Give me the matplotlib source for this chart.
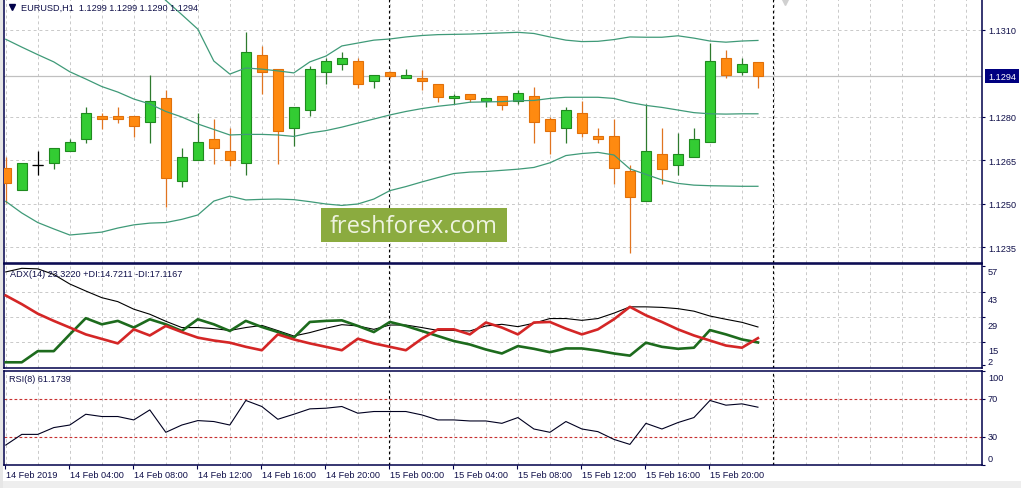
import matplotlib
matplotlib.use("Agg")
import matplotlib.pyplot as plt
import numpy as np
from matplotlib.patches import Rectangle

# ---------------- data ----------------
opens = [1.12622, 1.12548, 1.12633, 1.12639, 1.12681, 1.12722, 1.12802, 1.12802,
         1.12801, 1.12781, 1.12864, 1.12579, 1.12650, 1.12722, 1.12681, 1.12639,
         1.13012, 1.12963, 1.12760, 1.12822, 1.12953, 1.12981, 1.12991, 1.12922,
         1.12953, 1.12932, 1.12932, 1.12912, 1.12863, 1.12879, 1.12853, 1.12870,
         1.12853, 1.12870, 1.12792, 1.12760, 1.12812, 1.12732, 1.12732, 1.12612,
         1.12510, 1.12670, 1.12632, 1.12660, 1.12712, 1.13001, 1.12953, 1.12990]
highs = [1.12661, 1.12639, 1.12681, 1.12691, 1.12722, 1.12833, 1.12812, 1.12832,
         1.12801, 1.12944, 1.12893, 1.12692, 1.12812, 1.12792, 1.12761, 1.13091,
         1.13043, 1.12963, 1.12832, 1.12976, 1.13002, 1.13023, 1.13002, 1.12943,
         1.12958, 1.12964, 1.12962, 1.12912, 1.12877, 1.12879, 1.12863, 1.12870,
         1.12893, 1.12901, 1.12800, 1.12832, 1.12855, 1.12761, 1.12792, 1.12633,
         1.12843, 1.12761, 1.12743, 1.12761, 1.13054, 1.13031, 1.13001, 1.12990]
lows = [1.12502, 1.12548, 1.12600, 1.12621, 1.12681, 1.12710, 1.12758, 1.12779,
        1.12730, 1.12710, 1.12490, 1.12559, 1.12650, 1.12638, 1.12631, 1.12600,
        1.12878, 1.12638, 1.12700, 1.12801, 1.12912, 1.12962, 1.12900, 1.12900,
        1.12932, 1.12932, 1.12891, 1.12852, 1.12844, 1.12852, 1.12832, 1.12822,
        1.12843, 1.12710, 1.12670, 1.12710, 1.12730, 1.12710, 1.12569, 1.12329,
        1.12510, 1.12569, 1.12600, 1.12660, 1.12712, 1.12932, 1.12943, 1.12900]
closes = [1.12570, 1.12639, 1.12633, 1.12691, 1.12712, 1.12812, 1.12791, 1.12791,
          1.12769, 1.12853, 1.12590, 1.12660, 1.12712, 1.12691, 1.12650, 1.13022,
          1.12953, 1.12752, 1.12832, 1.12963, 1.12991, 1.13001, 1.12912, 1.12943,
          1.12941, 1.12943, 1.12922, 1.12869, 1.12870, 1.12861, 1.12863, 1.12841,
          1.12881, 1.12781, 1.12752, 1.12822, 1.12743, 1.12722, 1.12622, 1.12522,
          1.12681, 1.12621, 1.12670, 1.12722, 1.12991, 1.12943, 1.12981, 1.12940]

bb_upper = [1.13627, 1.13613, 1.13594, 1.13565, 1.13518, 1.13463, 1.13406, 1.13354,
            1.13296, 1.13254, 1.13201, 1.13152, 1.13102, 1.12992, 1.12947, 1.12968,
            1.12964, 1.12958, 1.12951, 1.12989, 1.13009, 1.13044, 1.13054, 1.13064,
            1.13068, 1.13075, 1.13080, 1.13083, 1.13084, 1.13085, 1.13087, 1.13089,
            1.13091, 1.13087, 1.13075, 1.13064, 1.13059, 1.13060, 1.13066, 1.13075,
            1.13074, 1.13074, 1.13079, 1.13071, 1.13061, 1.13057, 1.13061, 1.13063]
bb_middle = [1.13067, 1.13040, 1.13014, 1.12989, 1.12955, 1.12930, 1.12904, 1.12885,
             1.12861, 1.12844, 1.12818, 1.12799, 1.12775, 1.12756, 1.12737, 1.12739,
             1.12739, 1.12737, 1.12732, 1.12744, 1.12752, 1.12764, 1.12778, 1.12792,
             1.12806, 1.12818, 1.12828, 1.12836, 1.12842, 1.12850, 1.12851, 1.12852,
             1.12855, 1.12856, 1.12863, 1.12867, 1.12867, 1.12867, 1.12863, 1.12849,
             1.12839, 1.12832, 1.12823, 1.12814, 1.12810, 1.12809, 1.12810, 1.12810]
bb_lower = [1.12508, 1.12468, 1.12435, 1.12413, 1.12392, 1.12397, 1.12402, 1.12416,
            1.12427, 1.12433, 1.12435, 1.12446, 1.12461, 1.12509, 1.12526, 1.12513,
            1.12515, 1.12516, 1.12514, 1.12507, 1.12499, 1.12494, 1.12499, 1.12516,
            1.12545, 1.12559, 1.12575, 1.12590, 1.12604, 1.12609, 1.12611, 1.12615,
            1.12619, 1.12625, 1.12641, 1.12666, 1.12673, 1.12677, 1.12668, 1.12620,
            1.12601, 1.12582, 1.12570, 1.12564, 1.12562, 1.12561, 1.12560, 1.12560]

adx = [53.9, 55.9, 55.6, 52.5, 47.2, 43.3, 39.6, 37.4, 33.2, 30.4, 26.5, 23.0,
       23.0, 22.4, 21.4, 23.0, 24.2, 21.3, 18.3, 20.2, 22.6, 24.6, 23.9, 22.0,
       24.4, 24.4, 23.0, 21.4, 21.4, 21.1, 23.9, 24.8, 23.5, 25.4, 28.0, 28.0,
       27.0, 28.0, 31.0, 34.5, 34.5, 34.2, 33.5, 32.1, 29.4, 27.6, 25.9, 23.32]
plus_di = [3.7, 3.7, 9.9, 9.9, 19.2, 28.2, 24.8, 26.7, 23.0, 27.6, 24.8, 21.1,
           27.6, 24.8, 21.1, 26.7, 23.3, 20.5, 17.4, 26.1, 26.7, 27.0, 23.9, 20.5,
           26.1, 23.9, 21.1, 18.3, 15.5, 13.6, 10.8, 8.6, 12.7, 11.2, 9.3, 11.4,
           11.4, 10.2, 8.6, 7.4, 14.6, 12.3, 11.2, 11.8, 21.6, 19.2, 16.4, 14.72]
minus_di = [40.8, 36.0, 30.7, 26.7, 23.0, 19.2, 16.7, 14.2, 22.0, 18.6, 23.9, 20.5,
            17.4, 15.8, 14.6, 12.3, 10.4, 19.2, 16.4, 14.2, 12.3, 10.4, 16.8, 14.2,
            12.3, 10.4, 16.8, 22.0, 22.0, 19.2, 25.8, 23.0, 19.2, 25.8, 26.1, 22.4,
            19.2, 22.0, 27.6, 34.5, 29.8, 26.1, 22.0, 18.6, 15.8, 13.0, 11.8, 17.12]
rsi = [21.1, 32.4, 32.4, 39.6, 42.3, 53.7, 51.3, 51.3, 47.7, 58.3, 34.6, 42.3,
       47.0, 46.0, 42.3, 68.3, 61.9, 48.4, 53.7, 59.4, 60.1, 61.9, 54.8, 56.6,
       56.6, 56.6, 53.0, 47.7, 47.7, 46.6, 46.6, 44.1, 50.2, 38.1, 34.6, 46.0,
       38.1, 35.3, 27.1, 21.8, 44.1, 38.1, 44.9, 50.2, 68.3, 63.3, 64.7, 61.17]

time_labels = ["14 Feb 2019", "14 Feb 04:00", "14 Feb 08:00", "14 Feb 12:00",
               "14 Feb 16:00", "14 Feb 20:00", "15 Feb 00:00", "15 Feb 04:00",
               "15 Feb 08:00", "15 Feb 12:00", "15 Feb 16:00", "15 Feb 20:00"]
time_label_idx = [0, 4, 8, 12, 16, 20, 24, 28, 32, 36, 40, 44]
day_starts = [24, 48]

price_ticks = [1.1235, 1.1250, 1.1265, 1.1280, 1.1310]
adx_ticks = [57, 43, 29, 15, 2]
rsi_ticks = [100, 70, 30, 0]
rsi_levels = [70, 30]
last_price = 1.1294

title_main = "EURUSD,H1  1.1299 1.1299 1.1290 1.1294"
title_adx = "ADX(14) 23.3220 +DI:14.7211 -DI:17.1167"
title_rsi = "RSI(8) 61.1739"
watermark = "freshforex.com"

# ---------------- style ----------------
W, H = 1021, 489
NAVY = "#00004a"
TXT = "#10104a"
GRID = "#c9c9c9"
BULL_FILL, BULL_EDGE, BULL_WICK = "#33cc33", "#1f8a1f", "#2e7a2e"
BEAR_FILL, BEAR_EDGE, BEAR_WICK = "#ff8a10", "#e0700a", "#e07420"
BAND = "#3f9a78"
FONT = "Liberation Sans"
FS = 6.6

plt.rcParams["font.family"] = [FONT, "DejaVu Sans"]

fig = plt.figure(figsize=(W / 100, H / 100), dpi=100)
fig.patch.set_facecolor("white")


def px_axes(x0, y0, x1, y1):
    return fig.add_axes([x0 / W, 1 - y1 / H, (x1 - x0) / W, (y1 - y0) / H])


ax_main = px_axes(4, 0, 982, 263.5)
ax_adx = px_axes(4, 265, 982, 368.7)
ax_rsi = px_axes(4, 371.5, 982, 466)
axes = [ax_main, ax_adx, ax_rsi]

idx = np.arange(len(opens))
for ax in axes:
    ax.set_xlim(-0.11, 61.0)
    ax.set_facecolor("white")
    for s in ax.spines.values():
        s.set_color(NAVY)
        s.set_linewidth(1.1)
    ax.set_xticks(np.arange(0, 61, 2), minor=True)
    ax.grid(which="minor", axis="x", color=GRID, linestyle=(0, (3, 3)), linewidth=0.7)
    ax.tick_params(which="minor", length=0)
    ax.set_xticks([])
    ax.yaxis.tick_right()
    ax.tick_params(axis="y", direction="out", length=2.5, width=0.8, color=NAVY,
                   labelsize=FS, labelcolor=TXT, pad=2.0)
    ax.set_axisbelow(True)
    for d in day_starts:
        ax.axvline(d - 0.04, color="black", linestyle=(0, (2.5, 2.5)), linewidth=0.8, zorder=1.5)

ax_main.spines["top"].set_visible(False)

# ---------------- main chart ----------------
ax_main.set_ylim(1.122972, 1.132059)
ax_main.set_yticks(price_ticks)
ax_main.set_yticklabels([f"{p:.4f}" for p in price_ticks])
ax_main.grid(axis="y", color=GRID, linestyle=(0, (3, 3)), linewidth=0.7)
ax_main.axhline(last_price, color="#c0c0c0", linewidth=0.9, zorder=1.2)

o = np.array(opens); c = np.array(closes); h = np.array(highs); l = np.array(lows)
fills, edges, wicks = [], [], []
for oo, cc in zip(o, c):
    if cc > oo:
        fills.append(BULL_FILL); edges.append(BULL_EDGE); wicks.append(BULL_WICK)
    elif cc < oo:
        fills.append(BEAR_FILL); edges.append(BEAR_EDGE); wicks.append(BEAR_WICK)
    else:
        fills.append("black"); edges.append("black"); wicks.append("black")

ax_main.vlines(idx, l, h, colors=wicks, linewidth=0.9, zorder=2)
ax_main.bar(idx, np.abs(c - o), bottom=np.minimum(o, c), width=0.62,
            color=fills, edgecolor=edges, linewidth=0.8, zorder=3)
doji = idx[c == o]
ax_main.hlines(c[c == o], doji - 0.34, doji + 0.34, colors="black", linewidth=0.9, zorder=3)

for band in (bb_upper, bb_middle, bb_lower):
    ax_main.plot(idx, band, color=BAND, linewidth=0.9, zorder=4)

ax_main.annotate(f"{last_price:.4f}", xy=(1.0, last_price), xycoords=("axes fraction", "data"),
                 xytext=(4.3, 0), textcoords="offset points", ha="left", va="center",
                 fontsize=FS, color="white", annotation_clip=False,
                 bbox=dict(boxstyle="square,pad=0.3", fc="#000080", ec="none"))

# watermark
wm_box = Rectangle((321 / W, 1 - 242.5 / H), (507 - 321) / W, (242.5 - 209) / H,
                   transform=fig.transFigure, facecolor="#8bab3f", edgecolor="none", zorder=10)
fig.patches.append(wm_box)
fig.text(414 / W, 1 - 227 / H, watermark, fontsize=17, family=["Open Sans", "DejaVu Sans"],
         color="#eef3e0", ha="center", va="center", zorder=11)

# ---------------- ADX ----------------
ax_adx.set_ylim(0.7, 58.3)
ax_adx.set_yticks(adx_ticks)
ax_adx.set_yticklabels([])
for v in adx_ticks[1:4]:
    ax_adx.axhline(v, color=GRID, linestyle=(0, (3, 3)), linewidth=0.7, zorder=0.5)
ax_adx.plot(idx, adx, color="black", linewidth=0.8, zorder=3)
ax_adx.plot(idx, plus_di, color="#1d6b1d", linewidth=1.9, zorder=3)
ax_adx.plot(idx, minus_di, color="#d42626", linewidth=1.9, zorder=3)
adx_offsets = {57: -3.5, 43: -6.0, 29: -6.0, 15: -6.2, 2: 2.6}
for v in adx_ticks:
    ax_adx.annotate(str(v), xy=(1.0, v), xycoords=("axes fraction", "data"),
                    xytext=(4.3, adx_offsets[v]), textcoords="offset points",
                    ha="left", va="center", fontsize=FS, color=TXT, annotation_clip=False)

# ---------------- RSI ----------------
ax_rsi.set_ylim(0, 100)
ax_rsi.set_yticks(rsi_ticks)
ax_rsi.set_yticklabels([])
for v in rsi_levels:
    ax_rsi.axhline(v, color="#c83030", linestyle=(0, (2.5, 2)), linewidth=0.8, zorder=1)
ax_rsi.plot(idx, rsi, color="#000020", linewidth=0.8, zorder=3)
rsi_offsets = {100: -4.9, 70: 0, 30: 0, 0: 4.8}
for v in rsi_ticks:
    ax_rsi.annotate(str(v), xy=(1.0, v), xycoords=("axes fraction", "data"),
                    xytext=(4.3, rsi_offsets[v]), textcoords="offset points",
                    ha="left", va="center", fontsize=FS, color=TXT, annotation_clip=False)

# x ticks + labels at bottom
ax_rsi.set_xticks(np.array(time_label_idx) - 0.05)
ax_rsi.set_xticklabels([])
ax_rsi.tick_params(axis="x", which="major", direction="out", length=3, width=0.8, color=NAVY)
for i, lab in zip(time_label_idx, time_labels):
    ax_rsi.annotate(lab, xy=(i - 0.05, 0.0), xycoords=("data", "axes fraction"),
                    xytext=(0.5, -6.6), textcoords="offset points", ha="left", va="center",
                    fontsize=FS, color=TXT, annotation_clip=False)

# ---------------- panel titles ----------------
fig.text(21 / W, 1 - 8 / H, title_main, fontsize=FS, color=TXT, ha="left", va="center")
fig.lines.append(plt.Line2D([11.5 / W], [1 - 8 / H], marker="v", markersize=3.8, color=NAVY,
                            transform=fig.transFigure, linestyle="none"))
fig.lines.append(plt.Line2D([785 / W], [1 - 1.5 / H], marker="v", markersize=6, color="#d0d0d0",
                            transform=fig.transFigure, linestyle="none"))
fig.text(10 / W, 1 - 274.5 / H, title_adx, fontsize=FS, color=TXT, ha="left", va="center")
fig.text(9 / W, 1 - 380 / H, title_rsi, fontsize=FS, color=TXT, ha="left", va="center")

# window edges
fig.patches.append(Rectangle((0, 0), 1, 7 / H, transform=fig.transFigure,
                             facecolor="#eeeeee", edgecolor="none", zorder=-1))
fig.patches.append(Rectangle((0, 0), 3 / W, 1, transform=fig.transFigure,
                             facecolor="#e6e6e6", edgecolor="none", zorder=-1))

fig.savefig("out.png", dpi=100, facecolor="white")
